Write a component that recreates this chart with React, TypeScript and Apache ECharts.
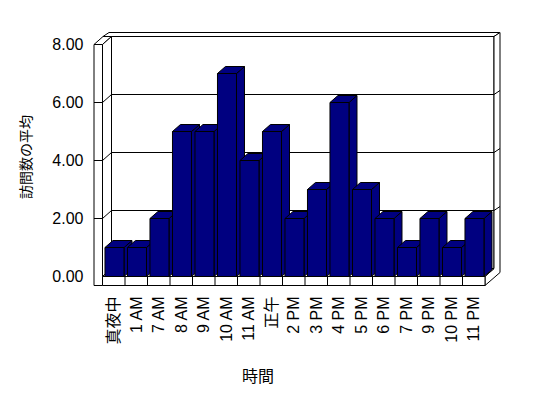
import React, { useEffect, useRef } from "react";
import * as echarts from "echarts";

const categories = ["真夜中", "1 AM", "7 AM", "8 AM", "9 AM", "10 AM", "11 AM", "正午", "2 PM", "3 PM", "4 PM", "5 PM", "6 PM", "7 PM", "9 PM", "10 PM", "11 PM"];
const visits = [1, 1, 2, 5, 5, 7, 4, 5, 2, 3, 6, 3, 2, 1, 2, 1, 2];
const yTicks = [0, 2, 4, 6, 8];
const yMax = 8;
const xTitle = "時間";
const yTitle = "訪問数の平均";

const FONT = "'Liberation Sans', Arial, 'Noto Sans CJK JP', sans-serif";

export default function App() {
  const ref = useRef<HTMLDivElement>(null);
  useEffect(() => {
    if (!ref.current) return;
    const chart = echarts.init(ref.current, null, { renderer: "svg" });
    const n = categories.length;
    const DX = 9, DY = -8, T = 8.5, FT = 9, SX = 6, SY = -4;
    const W = { fill: "#ffffff", stroke: "#000000", lineWidth: 1 };
    const L = { stroke: "#000000", lineWidth: 1, fill: "none" };

    const boxRender = (params: any, api: any) => {
      const bw = api.size([1, 0])[0];
      const x0 = api.coord([0, 0])[0] - bw / 2;
      const x1 = api.coord([n - 1, 0])[0] + bw / 2;
      const y = (v: number) => api.coord([0, v])[1];
      const yT = y(yMax), yB = y(0);
      const ch: any[] = [];
      ch.push({ type: "rect", shape: { x: x0 + DX, y: yT + DY, width: x1 - x0, height: yB - yT }, style: W });
      ch.push({ type: "polygon", shape: { points: [[x0 - T, yT], [x0, yT], [x0 + DX, yT + DY], [x0 - T + DX, yT + DY]] }, style: W });
      ch.push({ type: "polygon", shape: { points: [[x0 - T + DX, yT + DY], [x1 + DX, yT + DY], [x1 + DX + SX, yT + DY + SY], [x0 - T + DX + SX, yT + DY + SY]] }, style: W });
      ch.push({ type: "polygon", shape: { points: [[x1 + DX, yT + DY], [x1 + DX + SX, yT + DY + SY], [x1 + DX + SX, yB + DY + 4], [x1, yB + FT], [x1, yB], [x1 + DX, yB + DY]] }, style: W });
      ch.push({ type: "polygon", shape: { points: [[x0, yT], [x0 + DX, yT + DY], [x0 + DX, yB + DY], [x0, yB]] }, style: W });
      ch.push({ type: "polygon", shape: { points: [[x0, yB], [x1, yB], [x1 + DX, yB + DY], [x0 + DX, yB + DY]] }, style: W });
      ch.push({ type: "rect", shape: { x: x0 - T, y: yT, width: T, height: yB + FT - yT }, style: W });
      ch.push({ type: "rect", shape: { x: x0, y: yB, width: x1 - x0, height: FT }, style: W });
      for (let i = 1; i < n; i++) {
        const xx = x0 + i * bw;
        ch.push({ type: "line", shape: { x1: xx, y1: yB, x2: xx, y2: yB + FT }, style: L });
      }
      yTicks.forEach((v) => {
        if (v === 0 || v === yMax) return;
        const yy = y(v);
        ch.push({ type: "line", shape: { x1: x0 + DX, y1: yy + DY, x2: x1 + DX, y2: yy + DY }, style: L });
        ch.push({ type: "line", shape: { x1: x0, y1: yy, x2: x0 + DX, y2: yy + DY }, style: L });
        ch.push({ type: "line", shape: { x1: x0 - T, y1: yy, x2: x0, y2: yy }, style: L });
        ch.push({ type: "line", shape: { x1: x1 + DX, y1: yy + DY, x2: x1 + DX + SX, y2: yy + DY + SY }, style: L });
      });
      return { type: "group", children: ch };
    };

    const BDX = 8, BDY = -7;
    const barRender = (params: any, api: any) => {
      const i = api.value(0), v = api.value(1);
      const bw = api.size([1, 0])[0];
      const c = api.coord([i, v]);
      const yb = api.coord([i, 0])[1];
      const fw = bw * 0.845;
      const xl = c[0] - bw / 2 + bw * 0.11;
      const top = c[1];
      const st = { fill: "#000080", stroke: "#000000", lineWidth: 1 };
      return {
        type: "group",
        children: [
          { type: "polygon", shape: { points: [[xl + fw, top], [xl + fw + BDX, top + BDY], [xl + fw + BDX, yb + BDY], [xl + fw, yb]] }, style: st },
          { type: "polygon", shape: { points: [[xl, top], [xl + fw, top], [xl + fw + BDX, top + BDY], [xl + BDX, top + BDY]] }, style: st },
          { type: "rect", shape: { x: xl, y: top, width: fw, height: yb - top }, style: st },
        ],
      };
    };

    chart.setOption({
      animation: false,
      backgroundColor: "#ffffff",
      grid: { left: 102.5, top: 44.5, width: 382.5, height: 232, containLabel: false },
      xAxis: {
        type: "category",
        data: categories,
        axisLine: { show: false },
        axisTick: { show: false },
        axisLabel: { interval: 0, rotate: 90, margin: 20, fontSize: 16, color: "#000", fontFamily: FONT },
      },
      yAxis: {
        type: "value",
        min: 0,
        max: yMax,
        interval: 2,
        axisLine: { show: false },
        axisTick: { show: false },
        splitLine: { show: false },
        axisLabel: { formatter: (v: number) => v.toFixed(2), margin: 19, fontSize: 16, color: "#000", fontFamily: FONT },
      },
      graphic: [
        { type: "text", x: 258, y: 376, style: { text: xTitle, fontSize: 16, fill: "#000", fontFamily: FONT, align: "center", verticalAlign: "middle" } },
        { type: "text", x: 26, y: 157, rotation: Math.PI / 2, style: { text: yTitle, fontSize: 14, fill: "#000", fontFamily: FONT, align: "center", verticalAlign: "middle" } },
      ],
      series: [
        { type: "custom", z: 1, clip: false, silent: true, data: [[0, 0]], renderItem: boxRender },
        { type: "custom", z: 2, clip: false, data: visits.map((v, i) => [i, v]), encode: { x: 0, y: 1 }, renderItem: barRender },
      ],
    });
    return () => chart.dispose();
  }, []);
  return <div ref={ref} style={{ position: "fixed", left: 0, top: 0, width: 548, height: 398 }} />;
}
